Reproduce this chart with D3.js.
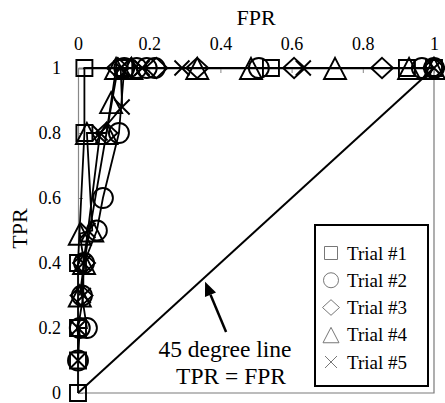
<!DOCTYPE html>
<html>
<head>
<meta charset="utf-8">
<script src="https://cdn.jsdelivr.net/npm/d3@7"></script>
<style>
  html, body { margin: 0; padding: 0; background: #fff; }
  svg { display: block; font-family: "Liberation Serif", "Times New Roman", serif; }
</style>
</head>
<body>
<svg id="chart" width="445" height="403"></svg>
<script>
// Axis ticks
const fprTicks = [0, 0.2, 0.4, 0.6, 0.8, 1];
const tprTicks = [0, 0.2, 0.4, 0.6, 0.8, 1];

// ROC points per trial (FPR, TPR)
const trialNames = ["Trial #1", "Trial #2", "Trial #3", "Trial #4", "Trial #5"];

const fpr1 = [0, 0, 0, 0, 0.018, 0.018, 0.13, 0.542, 0.924, 1];
const tpr1 = [0, 0.1, 0.2, 0.4, 0.8, 1, 1, 1, 1, 1];

const fpr2 = [0, 0.005, 0.025, 0.011, 0.017, 0.053, 0.07, 0.115, 0.13, 0.165, 0.193, 0.216, 0.508, 0.966, 1];
const tpr2 = [0.1, 0.2, 0.2, 0.3, 0.4, 0.5, 0.6, 0.8, 1, 1, 1, 1, 1, 1, 1];

const fpr3 = [0.01, 0.017, 0.08, 0.112, 0.15, 0.22, 0.335, 0.607, 0.854, 1];
const tpr3 = [0.3, 0.4, 0.8, 1, 1, 1, 1, 1, 1, 1];

const fpr4 = [0.005, 0.017, 0.005, 0.04, 0.025, 0.08, 0.093, 0.107, 0.15, 0.335, 0.486, 0.722, 0.93, 1];
const tpr4 = [0.3, 0.4, 0.49, 0.5, 0.8, 0.8, 0.895, 1, 1, 1, 1, 1, 1, 1];

const fpr5 = [0, 0, 0.015, 0.015, 0.028, 0.062, 0.124, 0.12, 0.18, 0.292, 0.633, 1];
const tpr5 = [0.1, 0.2, 0.3, 0.4, 0.5, 0.8, 0.88, 1, 1, 1, 1, 1];

// Reference diagonal and its annotation
const diagFpr = [0, 1];
const diagTpr = [0, 1];
const annLines = ["45 degree line", "TPR = FPR"];

const svg = d3.select("#chart");
const x = d3.scaleLinear().domain([0, 1]).range([78, 434]);
const y = d3.scaleLinear().domain([0, 1]).range([393, 68]);

// Marker shapes drawn through d3.symbol with custom types
const shapes = {
  square: { draw(c, s) { const h = Math.sqrt(s) / 2; c.rect(-h, -h, 2 * h, 2 * h); } },
  circle: { draw(c, s) { const r = Math.sqrt(s / Math.PI); c.moveTo(r, 0); c.arc(0, 0, r, 0, 2 * Math.PI); } },
  diamond: { draw(c, s) { const w = Math.sqrt(s) / 2, h = w * 0.92; c.moveTo(0, -h); c.lineTo(w, 0); c.lineTo(0, h); c.lineTo(-w, 0); c.closePath(); } },
  triangle: { draw(c, s) { const w = Math.sqrt(s) / 2; const t = w * 0.92, b = w; c.moveTo(0, -t); c.lineTo(w, b); c.lineTo(-w, b); c.closePath(); } },
  cross: { draw(c, s) { const h = Math.sqrt(s) / 2; c.moveTo(-h, -h); c.lineTo(h, h); c.moveTo(h, -h); c.lineTo(-h, h); } }
};

const trials = [
  { name: trialNames[0], fpr: fpr1, tpr: tpr1, shape: shapes.square, size: 16 * 16, legendSize: 13 * 13 },
  { name: trialNames[1], fpr: fpr2, tpr: tpr2, shape: shapes.circle, size: Math.PI * 10 * 10, legendSize: Math.PI * 7.5 * 7.5 },
  { name: trialNames[2], fpr: fpr3, tpr: tpr3, shape: shapes.diamond, size: 22 * 22, legendSize: 17 * 17 },
  { name: trialNames[3], fpr: fpr4, tpr: tpr4, shape: shapes.triangle, size: 22 * 22, legendSize: 16 * 16 },
  { name: trialNames[4], fpr: fpr5, tpr: tpr5, shape: shapes.cross, size: 15 * 15, legendSize: 12 * 12 }
];

// Plot frame (bottom and right edges)
svg.append("path")
  .attr("d", `M${x(0)},${y(0)}H${x(1)}V${y(1)}`)
  .attr("fill", "none").attr("stroke", "#7a7a7a").attr("stroke-width", 1.2);

// Top axis (FPR)
const gx = svg.append("g").attr("transform", `translate(0,${y(1)})`)
  .call(d3.axisTop(x).tickValues(fprTicks).tickFormat(d3.format("~g"))
    .tickSizeInner(-5).tickSizeOuter(0).tickPadding(18));
gx.select(".domain").attr("stroke", "#000").attr("stroke-width", 1.6);
gx.selectAll(".tick line").attr("stroke", "#888");
gx.selectAll(".tick text").attr("font-size", 18).attr("fill", "#000")
  .attr("font-family", "Liberation Serif, Times New Roman, serif");

// Left axis (TPR)
const gy = svg.append("g").attr("transform", `translate(${x(0)},0)`)
  .call(d3.axisLeft(y).tickValues(tprTicks).tickFormat(d3.format("~g"))
    .tickSizeInner(-5).tickSizeOuter(0).tickPadding(17));
gy.select(".domain").attr("stroke", "#888").attr("stroke-width", 1.2);
gy.selectAll(".tick line").attr("stroke", "#888");
gy.selectAll(".tick text").attr("font-size", 18).attr("fill", "#000")
  .attr("font-family", "Liberation Serif, Times New Roman, serif");

// Axis titles
svg.append("text").attr("x", (x(0) + x(1)) / 2).attr("y", 25)
  .attr("text-anchor", "middle").attr("font-size", 22).text("FPR");
svg.append("text").attr("transform", `translate(27,${(y(0) + y(1)) / 2 - 2}) rotate(-90)`)
  .attr("text-anchor", "middle").attr("font-size", 22).text("TPR");

// 45 degree reference line
svg.append("line")
  .attr("x1", x(diagFpr[0])).attr("y1", y(diagTpr[0]))
  .attr("x2", x(diagFpr[1])).attr("y2", y(diagTpr[1]))
  .attr("stroke", "#000").attr("stroke-width", 2);

// ROC curves
const line = d3.line().x(d => x(d[0])).y(d => y(d[1]));
trials.forEach(t => {
  const pts = t.fpr.map((f, i) => [f, t.tpr[i]]);
  svg.append("path").attr("d", line(pts))
    .attr("fill", "none").attr("stroke", "#000").attr("stroke-width", 1.8);
});

// Markers
trials.forEach(t => {
  const pts = t.fpr.map((f, i) => [f, t.tpr[i]]);
  const sym = d3.symbol().type(t.shape).size(t.size);
  svg.append("g").selectAll("path").data(pts).join("path")
    .attr("transform", d => `translate(${x(d[0])},${y(d[1])})`)
    .attr("d", sym)
    .attr("fill", "none").attr("stroke", "#000").attr("stroke-width", 1.9);
});

// Annotation: arrow pointing at the diagonal, plus label
const arrowTail = [0.416, 0.188];
const arrowTip = [0.357, 0.342];
const tx = x(arrowTail[0]), ty = y(arrowTail[1]);
const hx = x(arrowTip[0]), hy = y(arrowTip[1]);
const ang = Math.atan2(hy - ty, hx - tx);
const headLen = 14, headW = 6;
const bx = hx - headLen * Math.cos(ang), by = hy - headLen * Math.sin(ang);
svg.append("line").attr("x1", tx).attr("y1", ty).attr("x2", bx).attr("y2", by)
  .attr("stroke", "#000").attr("stroke-width", 2.5);
svg.append("path")
  .attr("d", `M${hx},${hy}L${bx + headW * Math.sin(ang)},${by - headW * Math.cos(ang)}L${bx - headW * Math.sin(ang)},${by + headW * Math.cos(ang)}Z`)
  .attr("fill", "#000");
svg.append("text").attr("x", 225).attr("y", 357).attr("text-anchor", "middle")
  .attr("font-size", 23.5).text(annLines[0]);
svg.append("text").attr("x", 231).attr("y", 384).attr("text-anchor", "middle")
  .attr("font-size", 23.5).text(annLines[1]);

// Legend
const lg = svg.append("g");
lg.append("rect").attr("x", 315).attr("y", 225).attr("width", 113).attr("height", 161)
  .attr("fill", "#fff").attr("stroke", "#000").attr("stroke-width", 2);
const rowY = d3.scalePoint().domain(trialNames).range([253, 362]);
trials.forEach(t => {
  const cy = rowY(t.name);
  lg.append("path").attr("transform", `translate(331,${cy})`)
    .attr("d", d3.symbol().type(t.shape).size(t.legendSize))
    .attr("fill", "none").attr("stroke", "#777").attr("stroke-width", 1);
  lg.append("text").attr("x", 347).attr("y", cy + 6.5).attr("font-size", 19).text(t.name);
});
</script>
</body>
</html>
